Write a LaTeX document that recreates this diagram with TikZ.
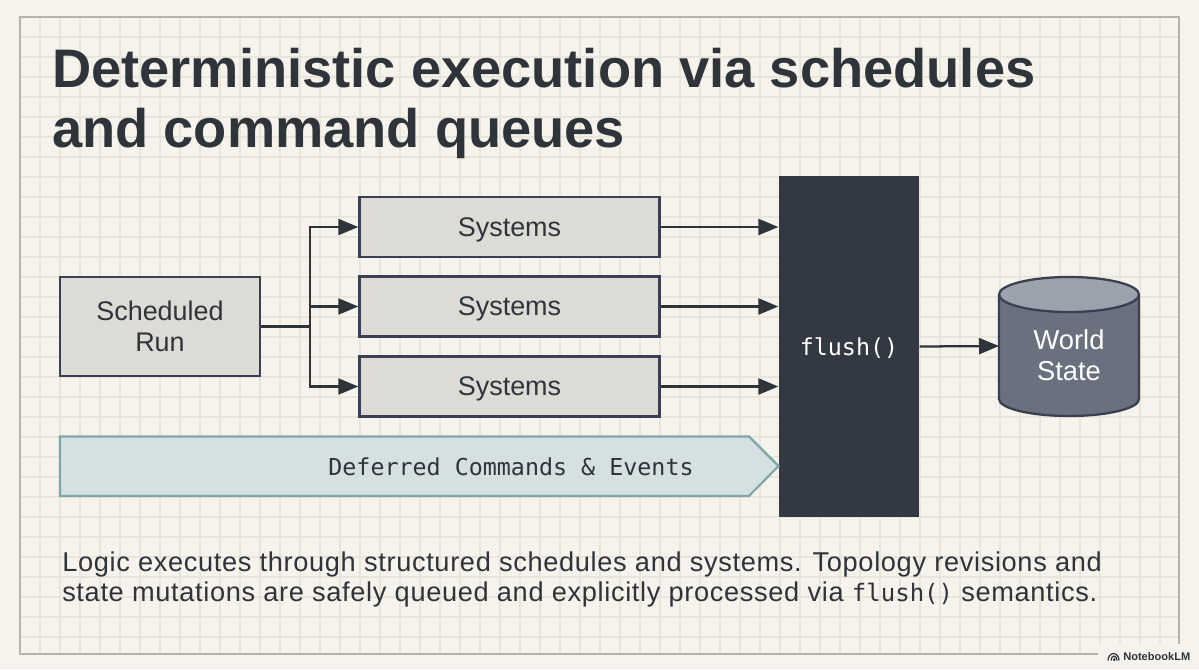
\documentclass[tikz,border=0pt]{standalone}
\usepackage{fontspec}
\setmainfont{Liberation Sans}
\setmonofont{DejaVu Sans Mono}
\newfontfamily\capfont[LetterSpace=2.4]{Liberation Sans}
\usetikzlibrary{arrows.meta,shapes.geometric,calc}
\definecolor{paper}{HTML}{F5F3EB}
\definecolor{gridc}{HTML}{E8E5DB}
\definecolor{frame}{HTML}{B5B3AA}
\definecolor{ink}{HTML}{2F343B}
\definecolor{pillar}{HTML}{323943}
\definecolor{boxfill}{HTML}{DCDBD6}
\definecolor{boxline}{HTML}{3A3F52}
\definecolor{tealline}{HTML}{7FA5A8}
\definecolor{tealfill}{HTML}{D5E0E3}
\definecolor{drum}{HTML}{69717F}
\definecolor{drumtop}{HTML}{9CA2AB}
\tikzset{
  x=0.75pt,y=-0.75pt,
  procbox/.style={draw=boxline,fill=boxfill,line width=1.8pt,minimum height=45pt,inner sep=0pt,align=center,text=ink,text depth=0pt,font=\fontsize{20.2}{23.2}\selectfont},
  conn/.style={draw=ink,line width=1.7pt},
  arr/.style={conn,-{Triangle[length=15pt,width=12pt]}},
  capline/.style={anchor=base west,inner sep=0pt,text=ink,font=\capfont\fontsize{20.4}{24}\selectfont},
  titleline/.style={anchor=base west,inner sep=0pt,text=ink,font=\fontsize{40.7}{41}\selectfont\bfseries},
}
\begin{document}
\begin{tikzpicture}
\useasboundingbox (0,0) rectangle (1199,669);
\fill[paper] (0,0) rectangle (1199,669);
% grid
\foreach \x in {40,60,...,1160}{\draw[gridc,line width=0.8pt] (\x,17) -- (\x,654);}
\foreach \y in {37,57,...,637}{\draw[gridc,line width=0.8pt] (20,\y) -- (1179,\y);}
\draw[frame,line width=0.9pt] (20,17) rectangle (1179,654);
% title
\node[titleline] (t1) at (52,87) {Deterministic execution via schedules};
\node[titleline] (t2) at (52,147) {and command queues};
% boxes
\node[procbox,minimum width=150pt,minimum height=74.5pt] (run) at (160,326.5) {Scheduled\\Run};
\node[procbox,minimum width=225pt] (s1) at (509.5,227) {Systems};
\node[procbox,minimum width=225pt] (s2) at (509.5,306.5) {Systems};
\node[procbox,minimum width=225pt] (s3) at (509.5,386.5) {Systems};
\node[fill=pillar,draw=none,minimum width=105.5pt,minimum height=255.5pt,inner sep=0pt,text=white,text depth=0pt,font=\ttfamily\fontsize{17.5}{20}\selectfont] (flush) at (849,346.5) {flush()};
% banner
\filldraw[draw=tealline,fill=tealfill,line width=1.6pt,line join=miter] (60,436.5) -- (749,436.5) -- (778.5,466) -- (749,496) -- (60,496) -- cycle;
\node[inner sep=0pt,text=ink,font=\ttfamily\fontsize{17.5}{20}\selectfont] (defer) at (511,467) {Deferred Commands \& Events};
% drum
\fill[drum] (999,295) -- (999,399) arc[start angle=180,end angle=360,x radius=70,y radius=-17] -- (1139,295) -- cycle;
\draw[boxline,line width=1.7pt] (999,295) -- (999,399) arc[start angle=180,end angle=360,x radius=70,y radius=-17] -- (1139,295);
\filldraw[draw=boxline,fill=drumtop,line width=1.7pt] (1069,294.5) ellipse[x radius=70,y radius=17.5];
\coordinate (drumw) at (999,346);
\node[inner sep=0pt,align=center,text=white,font=\fontsize{20.5}{23.2}\selectfont] (world) at (1069,355) {World\\State};
% connectors
\coordinate (j) at (310,326.5);
\draw[conn] (run.east) -- (j);
\draw[arr] (j) |- (s1.west);
\draw[arr] (j |- s2.west) -- (s2.west);
\draw[arr] (j) |- (s3.west);
\draw[arr] (s1.east) -- (flush.west |- s1.east);
\draw[arr] (s2.east) -- (flush.west |- s2.east);
\draw[arr] (s3.east) -- (flush.west |- s3.east);
\draw[arr] (flush.east) -- (drumw);
% caption
\node[capline] (c1) at (62,571) {Logic executes through structured schedules and systems. Topology revisions and};
\node[capline] (c2) at (62,601) {state mutations are safely queued and explicitly processed via {\ttfamily\fontsize{18}{24}\selectfont flush()} semantics.};
% watermark
\fill[paper] (1098,644) rectangle (1199,669);
\node[anchor=base west,inner sep=0pt,text=ink,font=\fontsize{8.3}{10}\selectfont\bfseries] (nb) at (1123,660) {NotebookLM};
\draw[ink,line width=0.9pt] (1108,660.5) arc[start angle=180,end angle=360,x radius=5.5,y radius=7];
\draw[ink,line width=0.9pt] (1111,660.5) arc[start angle=180,end angle=360,x radius=3,y radius=4.5];
\draw[ink,line width=0.9pt] (1113.5,660.5) arc[start angle=180,end angle=360,x radius=0.8,y radius=1.6];
\end{tikzpicture}
\end{document}
